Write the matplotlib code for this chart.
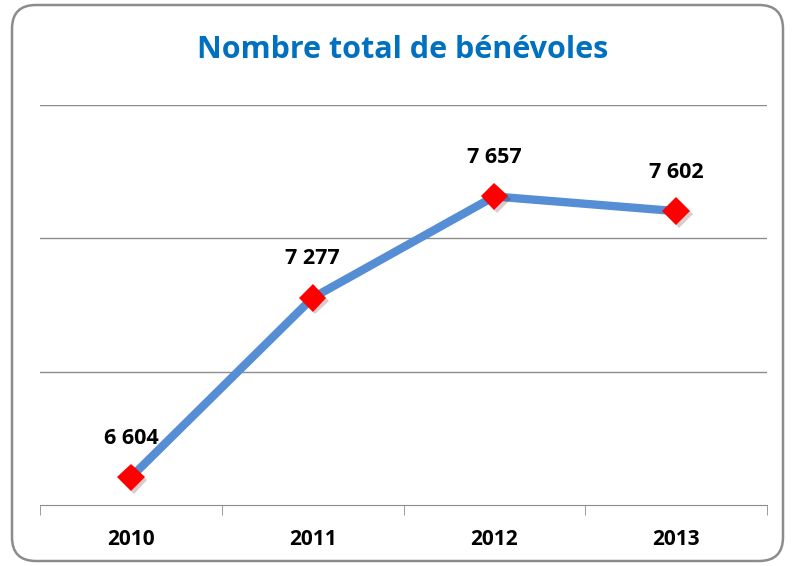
import matplotlib
matplotlib.use("Agg")
import matplotlib.pyplot as plt
from matplotlib.patches import FancyBboxPatch
import matplotlib.patheffects as pe

years = ["2010", "2011", "2012", "2013"]
values = [6604, 7277, 7657, 7602]
labels = ["6 604", "7 277", "7 657", "7 602"]

plt.rcParams["font.family"] = ["Open Sans", "DejaVu Sans"]

fig = plt.figure(figsize=(7.96, 5.66), dpi=100)
W, H = 796, 566

# rounded outer frame
frame = FancyBboxPatch((12 / W, 5 / H), 771 / W, 556 / H,
                       boxstyle="round,pad=0,rounding_size=0.03",
                       transform=fig.transFigure, facecolor="none",
                       edgecolor="#8c8c8c", linewidth=1.8, mutation_aspect=W / H,
                       zorder=-1)
fig.patches.append(frame)

ax = fig.add_axes([40 / W, 61 / H, 727 / W, 400 / H])
ax.set_facecolor("none")
x = list(range(len(years)))
ax.plot(x, values, "-", color="#558ED5", lw=6, solid_capstyle="butt", zorder=2)
ax.plot(x, values, "D", color="#FF0000", markersize=14, markeredgewidth=0, zorder=3,
        path_effects=[pe.SimplePatchShadow(offset=(2, -2), alpha=0.2), pe.Normal()])
for xi, v, lab in zip(x, values, labels):
    ax.annotate(lab, (xi, v), textcoords="offset points", xytext=(0, 28),
                ha="center", va="center", fontsize=15.5, fontweight="bold", color="black")

ax.set_xlim(-0.5, 3.5)
ax.set_ylim(6500, 8000)
ax.set_yticks([7000, 7500, 8000])
ax.yaxis.grid(True, color="#8c8c8c", lw=1)
ax.tick_params(axis="y", left=False, labelleft=False)
ax.set_xticks(x)
ax.set_xticklabels(years, fontsize=15, fontweight="bold")
ax.set_xticks([-0.5, 0.5, 1.5, 2.5, 3.5], minor=True)
ax.tick_params(axis="x", which="major", length=0, pad=17)
ax.tick_params(axis="x", which="minor", length=7, color="#8c8c8c", direction="out")
for s in ["top", "left", "right"]:
    ax.spines[s].set_visible(False)
ax.spines["bottom"].set_color("#8c8c8c")
ax.set_axisbelow(True)

fig.text(403 / W, 1 - 50 / H, "Nombre total de bénévoles", ha="center", va="center",
         fontsize=22, fontweight="bold", color="#0070C0")

fig.savefig("out.png", dpi=100)
